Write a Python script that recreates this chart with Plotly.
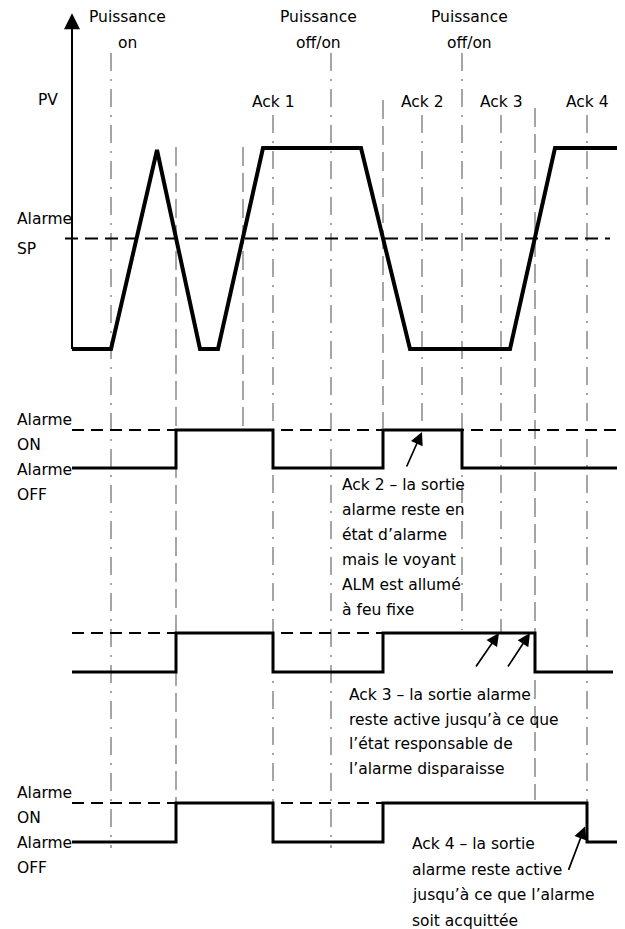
import plotly.graph_objects as go

# ---------------------------------------------------------------- data
# time axis (arbitrary units); 0 = origin of the PV axis
power_times = [3.9, 25.9, 39.0]             # Puissance on / off-on / off-on
crossing_times = [10.4, 17.1, 31.1, 46.3]   # PV crosses the alarm setpoint
ack_times = [20.1, 35.0, 42.9, 51.5]        # Ack 1 .. Ack 4
t_end = 54.5

# process value (% of span)
pv_t = [0, 3.9, 8.5, 12.8, 14.6, 19.1, 28.9, 33.8, 43.8, 48.3, 54.5]
pv_v = [0, 0, 99, 0, 0, 100, 100, 0, 0, 100, 100]
alarm_sp = 55

# alarm output state (0 = OFF, 1 = ON) for the three latching modes
out1_t = [0, 10.4, 20.1, 31.1, 39.0, 54.5]
out1_s = [0, 1, 0, 1, 0, 0]
out2_t = [0, 10.4, 20.1, 31.1, 46.3, 54.1]
out2_s = [0, 1, 0, 1, 0, 0]
out3_t = [0, 10.4, 20.1, 31.1, 51.5, 54.5]
out3_s = [0, 1, 0, 1, 0, 0]

power_labels = [["Puissance", "on"], ["Puissance", "off/on"], ["Puissance", "off/on"]]
ack_labels = ["Ack 1", "Ack 2", "Ack 3", "Ack 4"]
note_ack2 = ["Ack 2 \u2013 la sortie", "alarme reste en", "\u00e9tat d\u2019alarme",
             "mais le voyant", "ALM est allum\u00e9", "\u00e0 feu fixe"]
note_ack3 = ["Ack 3 \u2013 la sortie alarme", "reste active jusqu\u2019\u00e0 ce que",
             "l\u2019\u00e9tat responsable de", "l\u2019alarme disparaisse"]
note_ack4 = ["Ack 4 \u2013 la sortie", "alarme reste active",
             "jusqu\u2019\u00e0 ce que l\u2019alarme", "soit acquitt\u00e9e"]

# ------------------------------------------------------------ geometry
W, H = 625, 929
X0, PXT = 72, 10.0                      # pixel column of t=0, pixels per time unit


def yrange(v_lo, row_lo, v_hi, row_hi):
    """Axis range so that v_lo sits on pixel row row_lo and v_hi on row_hi."""
    s = (row_lo - row_hi) / (v_hi - v_lo)
    return [v_lo - (H - row_lo) / s, v_hi + row_hi / s]


def prow(row):
    return 1 - row / H


def tx(px):
    return (px - X0) / PXT


FONT = dict(family="DejaVu Sans", size=15.5, color="black")
GREY = "#9c9c9c"
DASHDOT = "18px,8px,2px,8px"
DASH = "19px,7px"

fig = go.Figure()

# PV panel
fig.add_trace(go.Scatter(x=[tx(65), tx(610)], y=[alarm_sp, alarm_sp], mode="lines",
                         line=dict(color="black", width=2, dash="13px,7px"),
                         yaxis="y", hoverinfo="skip"))
fig.add_trace(go.Scatter(x=pv_t, y=pv_v, mode="lines",
                         line=dict(color="black", width=4), yaxis="y", hoverinfo="skip"))

# alarm output panels
panels = [("y2", out1_t, out1_s, t_end), ("y3", out2_t, out2_s, crossing_times[3]),
          ("y4", out3_t, out3_s, crossing_times[2])]
for ax, t, s, dash_end in panels:
    fig.add_trace(go.Scatter(x=[0, dash_end], y=[1, 1], mode="lines",
                             line=dict(color="black", width=1.8, dash="12px,7px"),
                             yaxis=ax, hoverinfo="skip"))
    fig.add_trace(go.Scatter(x=t, y=s, mode="lines", line_shape="hv",
                             line=dict(color="black", width=3), yaxis=ax, hoverinfo="skip"))

# vertical event guides: (time, top row, bottom row, dash)
guides = [
    (power_times[0], 53, 848, DASHDOT),
    (power_times[1], 53, 848, DASHDOT),
    (power_times[2], 53, 630, DASHDOT),
    (crossing_times[0], 147, 803, DASH),
    (crossing_times[1], 147, 427, DASH),
    (crossing_times[2], 100, 428, DASH),
    (crossing_times[3], 108, 800, DASH),
    (ack_times[0], 115, 803, DASHDOT),
    (ack_times[1], 115, 430, DASHDOT),
    (ack_times[2], 115, 633, DASHDOT),
    (ack_times[3], 115, 803, DASHDOT),
]
shapes = []
for t, r0, r1, d in guides:
    shapes.append(dict(type="line", xref="x", yref="paper", x0=t, x1=t,
                       y0=prow(r0), y1=prow(r1), layer="below",
                       line=dict(color=GREY, width=1.8, dash=d)))
# PV axis line
shapes.append(dict(type="line", xref="x", yref="y", x0=0, x1=0, y0=0, y1=160,
                   line=dict(color="black", width=2)))

ann = []
# PV axis arrow head
ann.append(dict(x=0, y=167, xref="x", yref="y", ax=0, ay=40, text="", showarrow=True,
                arrowhead=2, arrowsize=1.6, arrowwidth=2, arrowcolor="black"))


def label(text, x, row, xanchor="left", xref="paper"):
    ann.append(dict(text=text, x=x, y=prow(row), xref=xref, yref="paper",
                    xanchor=xanchor, yanchor="middle", showarrow=False, font=FONT))


# top labels
power_centres = [127, 318, 469]
for (l1, l2), cx in zip(power_labels, power_centres):
    label(l1, tx(cx), 17, "center", "x")
    label(l2, tx(cx), 43, "center", "x")
for lab, t in zip(ack_labels, ack_times):
    label(lab, t, 102, "center", "x")
label("PV", 36 / W, 100)
label("Alarme", 15 / W, 219)
label("SP", 15 / W, 249)

# panel level labels
for base in (420, 793):
    for i, txt in enumerate(["Alarme", "ON", "Alarme", "OFF"]):
        label(txt, 15 / W, base + 25 * i)

# notes
for i, line in enumerate(note_ack2):
    label(line, tx(340), 485 + 25 * i, "left", "x")
for i, line in enumerate(note_ack3):
    label(line, tx(347), 695 + 24.5 * i, "left", "x")
for i, line in enumerate(note_ack4):
    label(line, tx(410), 844 + 25.5 * i, "left", "x")

# pointer arrows
arrow = dict(text="", showarrow=True, arrowhead=2, arrowsize=1.5, arrowwidth=1.7,
             arrowcolor="black", xref="x")
ann.append(dict(arrow, x=ack_times[1], y=1, yref="y2", ax=-16, ay=36, yshift=-2))
ann.append(dict(arrow, x=ack_times[2], y=1, yref="y3", ax=-24, ay=35, xshift=-2))
ann.append(dict(arrow, x=crossing_times[3], y=1, yref="y3", ax=-23, ay=35, xshift=-5))
ann.append(dict(arrow, x=ack_times[3], y=0.4, yref="y4", ax=-17, ay=45, xshift=-2))

hidden = dict(visible=False, showgrid=False, zeroline=False, fixedrange=True)
fig.update_layout(
    width=W, height=H, margin=dict(l=0, r=0, t=0, b=0),
    paper_bgcolor="white", plot_bgcolor="white", showlegend=False,
    xaxis=dict(range=[tx(0), tx(W)], **hidden),
    yaxis=dict(range=yrange(0, 349, 100, 148), domain=[0, 1], **hidden),
    yaxis2=dict(range=yrange(0, 468, 1, 430), overlaying="y", **hidden),
    yaxis3=dict(range=yrange(0, 672, 1, 633), overlaying="y", **hidden),
    yaxis4=dict(range=yrange(0, 842, 1, 803), overlaying="y", **hidden),
    shapes=shapes, annotations=ann,
)
fig.write_html("out.html")
